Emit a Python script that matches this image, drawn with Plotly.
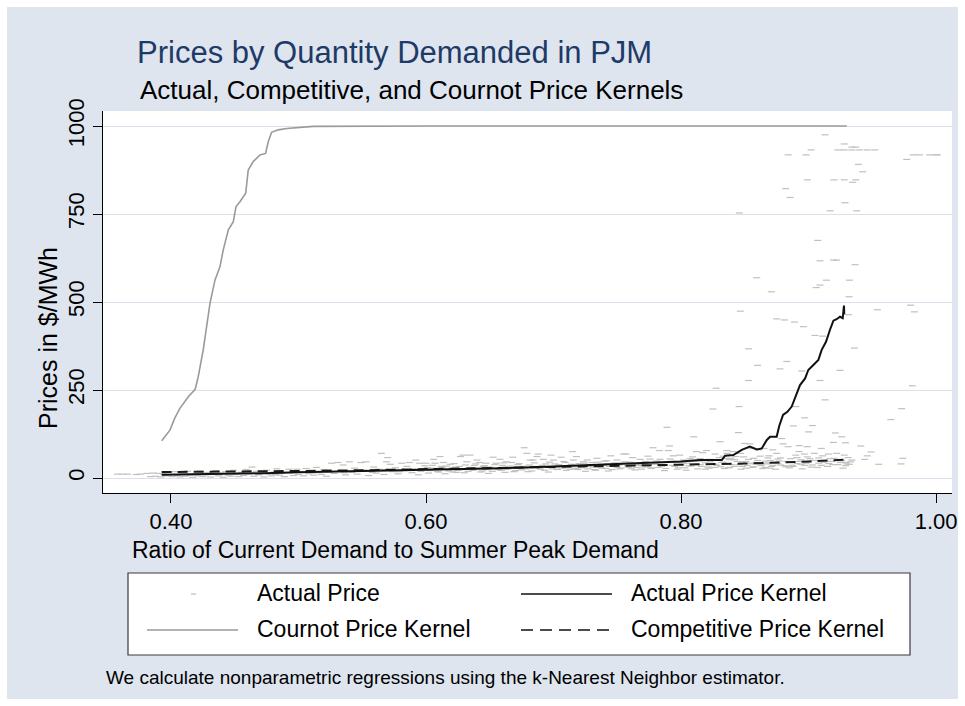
import plotly.graph_objects as go

# ---------------- data ----------------
# Actual Price observations (ratio of demand, $/MWh)
actual_x = [
    0.358, 0.362, 0.366, 0.373, 0.376, 0.381, 0.384, 0.386, 0.388, 0.390, 0.392, 0.394, 0.396, 0.398,
    0.401, 0.403, 0.405, 0.407, 0.409, 0.411, 0.413, 0.415, 0.417, 0.419, 0.421, 0.423, 0.425, 0.427,
    0.429, 0.431, 0.433, 0.435, 0.437, 0.439, 0.441, 0.443, 0.445, 0.447, 0.449, 0.451, 0.453, 0.455,
    0.457, 0.459, 0.461, 0.4635, 0.465, 0.467, 0.469, 0.471, 0.473, 0.475, 0.477, 0.479, 0.481, 0.483,
    0.485, 0.487, 0.489, 0.4925, 0.494, 0.496, 0.499, 0.500,
    0.502, 0.504, 0.506, 0.508, 0.510, 0.512, 0.514, 0.516, 0.518, 0.520, 0.522, 0.524, 0.526, 0.528,
    0.531, 0.533, 0.535, 0.537, 0.540, 0.542, 0.544, 0.546, 0.549, 0.551, 0.553, 0.555, 0.557, 0.559,
    0.561, 0.563, 0.565, 0.567, 0.569, 0.570, 0.572, 0.574, 0.576, 0.578, 0.581, 0.583, 0.585, 0.587,
    0.589, 0.590, 0.592, 0.594, 0.595, 0.597, 0.599, 0.600,
    0.602, 0.604, 0.606, 0.607, 0.609, 0.611, 0.612, 0.6136, 0.615, 0.617, 0.619, 0.621, 0.623, 0.625,
    0.627, 0.629, 0.630, 0.632, 0.6345, 0.636, 0.638, 0.640, 0.642, 0.644, 0.645, 0.647, 0.649, 0.651,
    0.6526, 0.655, 0.657, 0.658, 0.660, 0.662, 0.663, 0.665, 0.667, 0.668, 0.670, 0.672, 0.674, 0.677,
    0.679, 0.680, 0.6816, 0.684, 0.686, 0.687, 0.688, 0.690, 0.692, 0.694, 0.696, 0.698, 0.700,
    0.702, 0.704, 0.706, 0.708, 0.710, 0.712, 0.7155, 0.715, 0.717, 0.718, 0.720, 0.7235, 0.725, 0.7265,
    0.728, 0.730, 0.732, 0.734, 0.736, 0.738, 0.740, 0.7418, 0.743, 0.745, 0.747, 0.7497, 0.752, 0.754,
    0.755, 0.757, 0.759, 0.760, 0.762, 0.764, 0.766, 0.768, 0.770, 0.772, 0.774, 0.7757, 0.777, 0.778,
    0.780, 0.7836, 0.783, 0.785, 0.787, 0.789, 0.790, 0.791, 0.7915, 0.793, 0.794, 0.796, 0.797, 0.799,
    0.800,
    0.8018, 0.803, 0.805, 0.807, 0.808, 0.810, 0.810, 0.812, 0.813, 0.8149, 0.815, 0.817, 0.818, 0.820,
    0.821, 0.8227, 0.824, 0.825, 0.8267, 0.8275, 0.828, 0.830, 0.8306, 0.832, 0.834, 0.836, 0.836, 0.838,
    0.840, 0.841, 0.843, 0.845, 0.8455, 0.8465, 0.8457, 0.8467, 0.848, 0.850, 0.851, 0.853, 0.853, 0.854,
    0.8555, 0.857, 0.858, 0.8594, 0.860, 0.861, 0.862, 0.863, 0.865, 0.866, 0.868, 0.8698, 0.8708, 0.872,
    0.873, 0.875, 0.875, 0.876, 0.8776, 0.878, 0.879, 0.880, 0.881, 0.882, 0.8824, 0.883, 0.884, 0.884,
    0.8855, 0.886, 0.888, 0.889, 0.890, 0.890, 0.891, 0.8927, 0.8925, 0.894, 0.8947, 0.896, 0.8967, 0.897,
    0.898, 0.898, 0.899, 0.899, 0.900, 0.901, 0.902, 0.903, 0.9046, 0.905, 0.906, 0.9072, 0.908, 0.909,
    0.909, 0.909, 0.910, 0.911, 0.911, 0.913, 0.913, 0.914, 0.9156, 0.9169, 0.918, 0.9195, 0.9195, 0.920,
    0.921, 0.922, 0.922, 0.923, 0.924, 0.9247, 0.926, 0.928, 0.928, 0.928, 0.928, 0.9286, 0.929, 0.929,
    0.931, 0.9312, 0.9318, 0.932, 0.934, 0.934, 0.934, 0.9346, 0.9365, 0.936, 0.937, 0.937, 0.9378, 0.939,
    0.940, 0.941, 0.9425, 0.944, 0.946, 0.946, 0.949, 0.952, 0.954, 0.955, 0.9645, 0.9725, 0.973, 0.974,
    0.977, 0.980, 0.9814, 0.982, 0.983, 0.987, 0.995, 1.000, 1.001,
    0.804, 0.809, 0.816, 0.819, 0.823, 0.826, 0.829, 0.833, 0.835, 0.837, 0.839, 0.842, 0.844, 0.847,
    0.849, 0.852, 0.856, 0.859, 0.864, 0.867, 0.869, 0.871, 0.874, 0.877, 0.885, 0.887, 0.893, 0.895,
    0.899, 0.903, 0.907, 0.912, 0.915, 0.917, 0.919, 0.925, 0.927, 0.930, 0.933,
    0.601, 0.603, 0.605, 0.608, 0.610, 0.613, 0.616, 0.618, 0.620, 0.622, 0.624, 0.626, 0.628, 0.631,
    0.633, 0.635, 0.637, 0.639, 0.641, 0.643, 0.646, 0.648, 0.650, 0.652, 0.654, 0.656, 0.659, 0.661,
    0.664, 0.666, 0.669, 0.671, 0.673, 0.675, 0.676, 0.678, 0.681, 0.683, 0.685, 0.689, 0.691, 0.693,
    0.695, 0.697, 0.699,
    0.701, 0.703, 0.705, 0.707, 0.709, 0.711, 0.713, 0.714, 0.716, 0.719, 0.721, 0.722, 0.724, 0.727,
    0.729, 0.731, 0.733, 0.735, 0.737, 0.739, 0.741, 0.742, 0.744, 0.746, 0.748, 0.750, 0.751, 0.753,
    0.756, 0.758, 0.761, 0.763, 0.765, 0.767, 0.769, 0.771, 0.773, 0.776, 0.779, 0.781, 0.782, 0.784,
    0.786, 0.788, 0.792, 0.795, 0.798,
    0.801, 0.806, 0.811, 0.814, 0.819, 0.822, 0.827, 0.831, 0.833, 0.835, 0.838, 0.842, 0.846, 0.848,
    0.851, 0.853, 0.855, 0.857, 0.860, 0.862, 0.866, 0.868, 0.870, 0.872, 0.876, 0.878, 0.881, 0.883,
    0.886, 0.888, 0.891, 0.894, 0.897, 0.900, 0.902, 0.905, 0.908, 0.910, 0.913, 0.916, 0.920, 0.923,
    0.926, 0.929, 0.932,
    0.412, 0.426, 0.438, 0.452, 0.468, 0.482, 0.497, 0.511, 0.523, 0.536, 0.548, 0.558, 0.568, 0.579,
    0.588, 0.596,
]
actual_y = [
    11, 11, 11, 10, 11, 13, 4, 14, 5, 13, 3, 12, 6, 9,
    4, 18, 7, 3, 15, 5, 19, 8, 2, 12, 6, 20, 4, 9,
    16, 3, 11, 21, 6, 14, 2, 18, 8, 5, 22, 10, 4, 16,
    7, 24, 12, 31, 5, 19, 9, 14, 3, 22, 11, 6, 17, 26,
    8, 13, 4, 25, 15, 7, 25, 10,
    18, 6, 27, 12, 21, 8, 30, 15, 10, 24, 5, 17, 42, 13,
    44, 20, 37, 9, 46, 16, 28, 11, 44, 22, 46, 7, 19, 31,
    14, 25, 70, 10, 46, 58, 39, 18, 29, 12, 42, 21, 33, 44,
    15, 26, 51, 9, 42, 23, 35, 42,
    14, 28, 53, 42, 19, 61, 33, 44, 12, 25, 39, 17, 31, 22,
    61, 65, 15, 46, 65, 27, 36, 51, 44, 20, 33, 42, 13, 28,
    59, 42, 24, 53, 36, 16, 46, 30, 44, 59, 21, 38, 27, 86,
    70, 18, 51, 51, 33, 61, 68, 25, 53, 40, 17, 65, 51,
    29, 38, 59, 47, 22, 35, 51, 75, 27, 61, 41, 46, 19, 51,
    33, 44, 24, 56, 37, 28, 48, 49, 20, 63, 34, 51, 26, 42,
    68, 68, 30, 45, 58, 23, 38, 53, 31, 47, 62, 54, 27, 86,
    40, 53, 78, 33, 21, 144, 78, 91, 54, 36, 63, 44, 25, 65,
    38,
    51, 29, 42, 55, 34, 117, 47, 75, 26, 55, 38, 72, 49, 78,
    31, 53, 41, 196, 68, 255, 36, 58, 103, 44, 27, 78, 70, 52,
    38, 75, 61, 129, 203, 474, 753, 70, 33, 98, 47, 367, 277, 97,
    84, 56, 40, 569, 320, 80, 62, 35, 84, 48, 57, 28, 529, 80,
    43, 70, 452, 54, 310, 37, 112, 97, 449, 822, 32, 331, 918, 89,
    797, 46, 148, 443, 65, 203, 58, 92, 75, 39, 304, 430, 68, 171,
    918, 42, 847, 89, 131, 55, 932, 149, 70, 405, 541, 675, 42, 548,
    617, 277, 84, 403, 63, 975, 222, 562, 68, 759, 47, 619, 101, 847,
    128, 619, 70, 932, 52, 306, 117, 949, 932, 847, 65, 782, 100, 35,
    58, 464, 515, 562, 940, 932, 51, 840, 606, 369, 940, 847, 759, 891,
    932, 91, 870, 53, 932, 63, 74, 932, 478, 39, 166, 40, 197, 56,
    905, 491, 262, 918, 472, 918, 918, 918, 918,
    22, 60, 33, 25, 46, 30, 50, 62, 40, 29, 56, 33, 47, 25,
    60, 36, 30, 44, 27, 40, 63, 33, 25, 48, 29, 36, 47, 26,
    60, 37, 30, 45, 33, 55, 38, 44, 28, 40, 46,
    30, 21, 36, 26, 17, 29, 34, 20, 27, 41, 16, 33, 24, 37,
    19, 30, 22, 40, 28, 17, 35, 24, 31, 19, 38, 27, 22, 43,
    25, 34, 18, 29, 41, 23, 33, 26, 37, 20, 43, 28, 36, 22,
    31, 45, 26,
    40, 24, 33, 28, 44, 30, 25, 39, 32, 24, 36, 29, 42, 26,
    38, 31, 22, 45, 30, 36, 27, 40, 33, 24, 43, 30, 37, 28,
    46, 34, 26, 41, 30, 36, 25, 43, 33, 29, 39, 48, 30, 36,
    44, 27, 47, 33, 29,
    43, 35, 40, 48, 43, 28, 39, 32, 45, 55, 30, 52, 38, 46,
    28, 53, 42, 32, 50, 38, 30, 43, 50, 36, 41, 57, 35, 47,
    55, 33, 41, 52, 36, 45, 31, 50, 57, 36, 48, 41, 56, 38,
    49, 44, 39,
    11, 14, 9, 13, 15, 10, 17, 14, 20, 15, 21, 16, 24, 18,
    22, 19,
]

# Cournot Price Kernel
cournot_x = [0.3927, 0.3992, 0.403, 0.407, 0.4136, 0.419, 0.4214, 0.424, 0.4253, 0.4306, 0.4345,
             0.4384, 0.441, 0.445, 0.4489, 0.451, 0.4541, 0.4586, 0.4606, 0.4645, 0.4698, 0.4742,
             0.4763, 0.4789, 0.4841, 0.4907, 0.5064, 0.5116, 0.60, 0.70, 0.80, 0.93]
cournot_y = [106, 136, 170, 198, 231, 252, 288, 345, 364, 496, 562,
             600, 648, 705, 728, 771, 785, 809, 875, 899, 918, 922,
             955, 982, 989, 993, 996, 999, 1000, 1000, 1000, 1000]

# Actual Price Kernel
kernel_x = [0.3927, 0.42, 0.45, 0.48, 0.50, 0.53, 0.56, 0.60, 0.63, 0.66, 0.689, 0.72, 0.75, 0.78,
            0.80, 0.815, 0.832, 0.8345, 0.841, 0.8476, 0.854, 0.8594, 0.8633, 0.8673, 0.8698,
            0.875, 0.877, 0.88, 0.8834, 0.8868, 0.8907, 0.8933, 0.8973, 0.8998, 0.9038, 0.9077,
            0.9103, 0.9137, 0.9169, 0.9195, 0.922, 0.9247, 0.9268, 0.9278, 0.928]
kernel_y = [9, 10, 12, 14, 16, 18, 20, 23, 25, 28, 31, 35, 40, 44,
            47, 51, 51, 63, 65, 80, 89, 81, 84, 108, 117,
            117, 148, 179, 188, 203, 241, 264, 283, 307, 321, 335,
            364, 387, 422, 447, 451, 458, 454, 490, 465]

# Competitive Price Kernel
comp_x = [0.3927, 0.45, 0.50, 0.55, 0.60, 0.65, 0.70, 0.75, 0.80, 0.85, 0.90, 0.928]
comp_y = [17, 18, 20, 22, 25, 28, 31, 34, 37, 41, 47, 52]

y_ticks = [0, 250, 500, 750, 1000]
x_ticks = [0.40, 0.60, 0.80, 1.00]
x_tick_labels = ["0.40", "0.60", "0.80", "1.00"]

# ---------------- layout helpers ----------------
W, H = 965, 706
PL, PR, PT, PB = 103, 952, 111, 493  # plot area in pixels


def px(xp):
    return (xp - PL) / (PR - PL)


def py(yp):
    return (PB - yp) / (PB - PT)


FONT = "Liberation Sans, Arial, sans-serif"
BG = "#dee5ef"
GRID = "#d9e1ec"

fig = go.Figure()

fig.add_trace(go.Scatter(
    x=actual_x, y=actual_y, mode="markers", name="Actual Price",
    marker=dict(symbol="line-ew", size=5, color="#c0c0c0",
                line=dict(width=1.2, color="#c0c0c0")),
    showlegend=False, hoverinfo="x+y"))
fig.add_trace(go.Scatter(
    x=cournot_x, y=cournot_y, mode="lines", name="Cournot Price Kernel",
    line=dict(color="#9a9a9a", width=1.6), showlegend=False))
fig.add_trace(go.Scatter(
    x=comp_x, y=comp_y, mode="lines", name="Competitive Price Kernel",
    line=dict(color="#1a1a1a", width=2, dash="10px,6px"), showlegend=False))
fig.add_trace(go.Scatter(
    x=kernel_x, y=kernel_y, mode="lines", name="Actual Price Kernel",
    line=dict(color="#111111", width=2), showlegend=False))

shapes = [
    # white outer frame
    dict(type="rect", xref="paper", yref="paper",
         x0=px(0), x1=px(W), y0=py(H), y1=py(0),
         line=dict(color="white", width=14), fillcolor="rgba(0,0,0,0)"),
    # legend box
    dict(type="rect", xref="paper", yref="paper",
         x0=px(128), x1=px(910), y0=py(655), y1=py(573),
         line=dict(color="#3a3a3a", width=1.2), fillcolor="white"),
    # legend samples
    dict(type="line", xref="paper", yref="paper",
         x0=px(191), x1=px(196), y0=py(594), y1=py(594),
         line=dict(color="#c0c0c0", width=1.3)),
    dict(type="line", xref="paper", yref="paper",
         x0=px(521), x1=px(612), y0=py(594), y1=py(594),
         line=dict(color="#111111", width=1.5)),
    dict(type="line", xref="paper", yref="paper",
         x0=px(147), x1=px(238), y0=py(630), y1=py(630),
         line=dict(color="#9a9a9a", width=1.5)),
    dict(type="line", xref="paper", yref="paper",
         x0=px(521), x1=px(612), y0=py(630), y1=py(630),
         line=dict(color="#111111", width=1.3, dash="12px,7px")),
]

annotations = [
    dict(text="Prices by Quantity Demanded in PJM", x=px(135), y=py(52),
         font=dict(size=31, color="#1e3a66", family=FONT)),
    dict(text="Actual, Competitive, and Cournot Price Kernels", x=px(138), y=py(90),
         font=dict(size=26, color="black", family=FONT)),
    dict(text="Ratio of Current Demand to Summer Peak Demand", x=px(130), y=py(550),
         font=dict(size=23, color="black", family=FONT)),
    dict(text="Actual Price", x=px(255), y=py(593), font=dict(size=23, color="black", family=FONT)),
    dict(text="Actual Price Kernel", x=px(629), y=py(593), font=dict(size=23, color="black", family=FONT)),
    dict(text="Cournot Price Kernel", x=px(255), y=py(629), font=dict(size=23, color="black", family=FONT)),
    dict(text="Competitive Price Kernel", x=px(629), y=py(629), font=dict(size=23, color="black", family=FONT)),
    dict(text="We calculate nonparametric regressions using the k-Nearest Neighbor estimator.",
         x=px(104), y=py(677), font=dict(size=19, color="black", family=FONT)),
]
for a in annotations:
    a.update(xref="paper", yref="paper", xanchor="left", yanchor="middle", showarrow=False)

annotations.append(dict(
    text="Prices in $/MWh", x=px(48), y=py(338), xref="paper", yref="paper",
    xanchor="center", yanchor="middle", textangle=-90, showarrow=False,
    font=dict(size=25, color="black", family=FONT)))

fig.update_layout(
    width=W, height=H,
    margin=dict(l=PL, r=W - PR, t=PT, b=H - PB, pad=0, autoexpand=False),
    paper_bgcolor=BG, plot_bgcolor="white",
    showlegend=False,
    shapes=shapes, annotations=annotations,
    font=dict(family=FONT, color="black"),
    xaxis=dict(range=[0.3467, 1.0125], tickvals=x_ticks, ticktext=x_tick_labels,
               automargin=False,
               showgrid=False, zeroline=False, showline=True, linecolor="black", linewidth=1,
               ticks="outside", ticklen=9, tickcolor="black", tickwidth=1,
               tickfont=dict(size=22, family=FONT, color="black")),
    yaxis=dict(range=[-42.6, 1042.6], tickvals=y_ticks, automargin=False,
               showgrid=True, gridcolor=GRID, gridwidth=1, zeroline=False,
               showline=True, linecolor="black", linewidth=1,
               ticks="outside", ticklen=9, tickcolor="black", tickwidth=1, tickangle=-90,
               tickfont=dict(size=22, family=FONT, color="black")),
)

fig.write_html(
    "out.html",
    config={"displayModeBar": False},
    post_script="document.body.style.margin='0';document.body.style.padding='0';"
                "document.documentElement.style.overflow='hidden';",
)
